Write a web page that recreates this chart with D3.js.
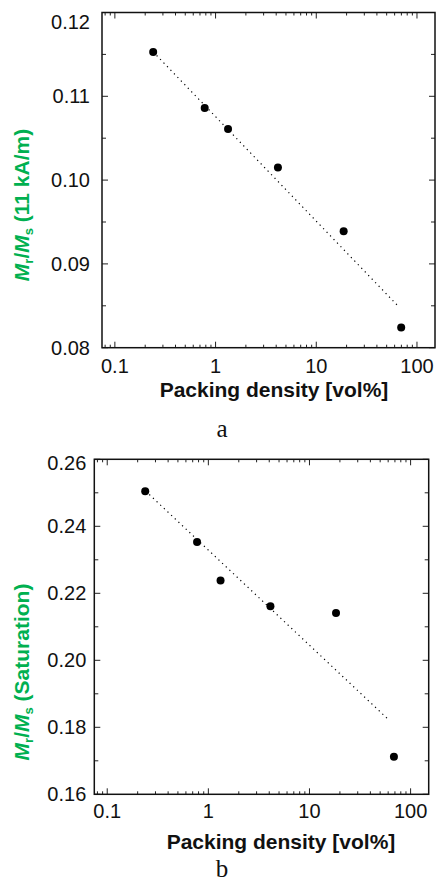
<!DOCTYPE html>
<html>
<head>
<meta charset="utf-8">
<script src="https://cdn.jsdelivr.net/npm/d3@7"></script>
<style>
  html, body { margin: 0; padding: 0; background: #fff; }
  svg { display: block; }
</style>
</head>
<body>
<svg id="chart" width="438" height="884"></svg>
<script>
// ---- data ----
const packingA = [0.24, 0.78, 1.33, 4.16, 18.7, 69.7];
const ratioA   = [0.1153, 0.1086, 0.1061, 0.1015, 0.0939, 0.0824];
const fitXA = [0.24, 67];
const fitYA = [0.1153, 0.0848];
const yTicksA = [0.08, 0.09, 0.10, 0.11, 0.12];
const yMinorA = [0.085, 0.095, 0.105, 0.115];
const yDomainA = [0.08, 0.12];

const packingB = [0.2375, 0.773, 1.32, 4.11, 18.3, 68.4];
const ratioB   = [0.2505, 0.2353, 0.2238, 0.2161, 0.2141, 0.1712];
const fitXB = [0.24, 60];
const fitYB = [0.2505, 0.1824];
const yTicksB = [0.16, 0.18, 0.20, 0.22, 0.24, 0.26];
const yMinorB = [0.17, 0.19, 0.21, 0.23, 0.25];
const yDomainB = [0.16, 0.26];

const xTickLabels = ["0.1", "1", "10", "100"];
const xMajor = [0.1, 1, 10, 100];
const xDomain = [0.0745, 151];
const xTitle = "Packing density [vol%]";

const svg = d3.select("#chart");
const green = "#00b050";

function panel(o) {
  const g = svg.append("g");
  const x = d3.scaleLog().domain(xDomain).range([o.left, o.right]);
  const y = d3.scaleLinear().domain(o.yDomain).range([o.bottom, o.top]);

  // minor log ticks
  const xMinor = [];
  [0.01, 0.1, 1, 10, 100].forEach(d => {
    for (let k = 2; k <= 9; k++) {
      const v = d * k;
      if (v > xDomain[0] && v < xDomain[1]) xMinor.push(v);
    }
  });

  const tickG = g.append("g").attr("stroke", "#222").attr("stroke-width", 1);
  // bottom & top x ticks (inward)
  xMajor.forEach(v => {
    tickG.append("line").attr("x1", x(v)).attr("x2", x(v)).attr("y1", o.bottom).attr("y2", o.bottom - 6);
    tickG.append("line").attr("x1", x(v)).attr("x2", x(v)).attr("y1", o.top).attr("y2", o.top + 6);
  });
  xMinor.forEach(v => {
    tickG.append("line").attr("x1", x(v)).attr("x2", x(v)).attr("y1", o.bottom).attr("y2", o.bottom - 3);
    tickG.append("line").attr("x1", x(v)).attr("x2", x(v)).attr("y1", o.top).attr("y2", o.top + 3);
  });
  // left & right y ticks
  o.yTicks.forEach(v => {
    tickG.append("line").attr("x1", o.left).attr("x2", o.left + 6).attr("y1", y(v)).attr("y2", y(v));
    tickG.append("line").attr("x1", o.right).attr("x2", o.right - 6).attr("y1", y(v)).attr("y2", y(v));
  });
  o.yMinor.forEach(v => {
    tickG.append("line").attr("x1", o.left).attr("x2", o.left + 4).attr("y1", y(v)).attr("y2", y(v));
    tickG.append("line").attr("x1", o.right).attr("x2", o.right - 4).attr("y1", y(v)).attr("y2", y(v));
  });

  // frame
  g.append("rect")
    .attr("x", o.left).attr("y", o.top)
    .attr("width", o.right - o.left).attr("height", o.bottom - o.top)
    .attr("fill", "none").attr("stroke", "#111").attr("stroke-width", 1.5);

  // y tick labels
  o.yTicks.forEach((v, i) => {
    const isTop = i === o.yTicks.length - 1;
    g.append("text")
      .attr("x", o.left - o.yLabelGap)
      .attr("y", y(v) + (isTop ? o.topLabelShift : 0))
      .attr("dy", "0.35em")
      .attr("text-anchor", "end")
      .attr("font-family", "Liberation Sans, Arial, sans-serif")
      .attr("font-size", 20)
      .attr("fill", "#111")
      .text(d3.format(".2f")(v));
  });

  // x tick labels
  xMajor.forEach((v, i) => {
    g.append("text")
      .attr("x", x(v))
      .attr("y", o.bottom + o.xLabelOffset)
      .attr("dy", "0.35em")
      .attr("text-anchor", "middle")
      .attr("font-family", "Liberation Sans, Arial, sans-serif")
      .attr("font-size", 20)
      .attr("fill", "#111")
      .text(xTickLabels[i]);
  });

  // x title
  g.append("text")
    .attr("x", (o.left + o.right) / 2 + o.xTitleShift)
    .attr("y", o.xTitleBaseline)
    .attr("text-anchor", "middle")
    .attr("font-family", "Liberation Sans, Arial, sans-serif")
    .attr("font-weight", "bold")
    .attr("font-size", 21)
    .attr("fill", "#111")
    .text(xTitle);

  // y title (rotated)
  const yt = g.append("text")
    .attr("transform", `translate(${o.yTitleX},${o.yTitleY}) rotate(-90)`)
    .attr("text-anchor", "middle")
    .attr("font-family", "Liberation Sans, Arial, sans-serif")
    .attr("font-weight", "bold")
    .attr("font-size", 21)
    .attr("fill", green);
  yt.append("tspan").attr("font-style", "italic").text("M");
  yt.append("tspan").attr("font-size", 13).attr("dy", 4).text("r");
  yt.append("tspan").attr("dy", -4).text("/");
  yt.append("tspan").attr("font-style", "italic").text("M");
  yt.append("tspan").attr("font-size", 13).attr("dy", 4).text("s");
  yt.append("tspan").attr("dy", -4).text(" " + o.yTitleRest);

  // fit line (dotted)
  const line = d3.line().x(d => x(d[0])).y(d => y(d[1]));
  g.append("path")
    .datum(o.fitX.map((v, i) => [v, o.fitY[i]]))
    .attr("d", line)
    .attr("fill", "none")
    .attr("stroke", "#000")
    .attr("stroke-width", 1.2)
    .attr("stroke-dasharray", "1.2,3.8");

  // points
  g.selectAll("circle.pt")
    .data(o.xs.map((v, i) => [v, o.ys[i]]))
    .join("circle")
    .attr("class", "pt")
    .attr("cx", d => x(d[0]))
    .attr("cy", d => y(d[1]))
    .attr("r", 4)
    .attr("fill", "#000");

  // caption
  g.append("text")
    .attr("x", o.captionX)
    .attr("y", o.captionY)
    .attr("text-anchor", "middle")
    .attr("font-family", "Liberation Serif, Times New Roman, serif")
    .attr("font-size", 25)
    .attr("fill", "#111")
    .text(o.caption);
}

panel({
  left: 102, right: 435, top: 12.5, bottom: 347.7,
  yDomain: yDomainA, yTicks: yTicksA, yMinor: yMinorA,
  xs: packingA, ys: ratioA, fitX: fitXA, fitY: fitYA,
  yLabelGap: 12, topLabelShift: 9.5, xLabelOffset: 18,
  xTitleShift: 5.5, xTitleBaseline: 397,
  yTitleX: 29, yTitleY: 205, yTitleRest: "(11 kA/m)",
  caption: "a", captionX: 222, captionY: 437
});

panel({
  left: 94.3, right: 428.7, top: 459.3, bottom: 794.3,
  yDomain: yDomainB, yTicks: yTicksB, yMinor: yMinorB,
  xs: packingB, ys: ratioB, fitX: fitXB, fitY: fitYB,
  yLabelGap: 8, topLabelShift: 4, xLabelOffset: 17,
  xTitleShift: 19.5, xTitleBaseline: 848.5,
  yTitleX: 29, yTitleY: 672, yTitleRest: "(Saturation)",
  caption: "b", captionX: 222, captionY: 877
});
</script>
</body>
</html>
